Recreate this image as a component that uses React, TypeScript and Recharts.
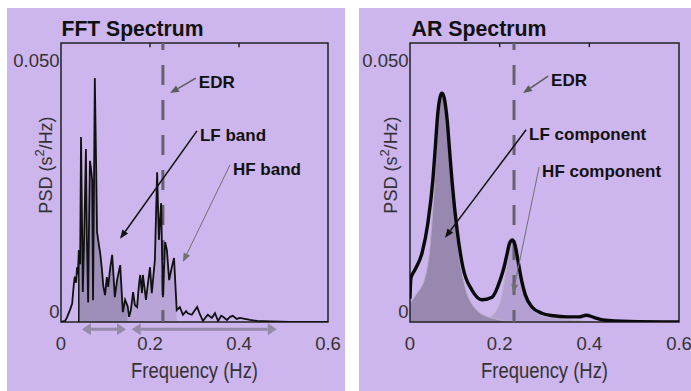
import {
  Area,
  ComposedChart,
  Line,
  ReferenceArea,
  ReferenceLine,
  XAxis,
  YAxis,
} from "recharts";

const FONT = "'Liberation Sans', Arial, Helvetica, sans-serif";
const PANEL_BG = "#cdb5ee";
const Y_MAX = 0.054;
const X_TICKS = [0, 0.2, 0.4, 0.6];
const Y_TICKS = [0, 0.05];
const TOP_TICKS = [0.2, 0.4];

// FFT periodogram
const fftFreq = [
  0, 0.009, 0.013, 0.02, 0.025, 0.029, 0.031, 0.034, 0.036, 0.038, 0.04,
  0.043, 0.045, 0.047, 0.049, 0.052, 0.056, 0.058, 0.061, 0.063, 0.065, 0.067,
  0.07, 0.072, 0.074, 0.076, 0.079, 0.081, 0.085, 0.088, 0.092, 0.095, 0.099,
  0.103, 0.106, 0.11, 0.115, 0.121, 0.126, 0.133, 0.139, 0.144, 0.15, 0.153,
  0.157, 0.162, 0.166, 0.171, 0.175, 0.178, 0.182, 0.184, 0.191, 0.195, 0.2,
  0.204, 0.211, 0.216, 0.22, 0.225, 0.229, 0.234, 0.238, 0.243, 0.249, 0.254,
  0.26, 0.267, 0.274, 0.281, 0.285, 0.294, 0.301, 0.306, 0.312, 0.319, 0.326,
  0.33, 0.339, 0.346, 0.353, 0.36, 0.364, 0.373, 0.38, 0.386, 0.395, 0.402,
  0.413, 0.425, 0.44, 0.47, 0.515, 0.6,
];
const fftPsd = [
  0, 0.0002, 0.0008, 0.0023, 0.0035, 0.0075, 0.0088, 0.0076, 0.0106, 0.0092,
  0.0139, 0.0112, 0.0358, 0.021, 0.0058, 0.016, 0.0335, 0.017, 0.0038, 0.019,
  0.0312, 0.03, 0.0275, 0.0042, 0.025, 0.0472, 0.03, 0.0174, 0.015, 0.0134,
  0.0101, 0.007, 0.0052, 0.0087, 0.0068, 0.0101, 0.013, 0.0048, 0.0081, 0.011,
  0.0019, 0.0043, 0.003, 0.001, 0.0023, 0.0058, 0.0033, 0.0029, 0.007, 0.0091,
  0.0056, 0.0091, 0.0043, 0.0072, 0.0106, 0.0056, 0.012, 0.029, 0.0159, 0.023,
  0.0048, 0.0155, 0.0139, 0.0081, 0.0106, 0.0124, 0.0023, 0.0029, 0.0014,
  0.0021, 0.0017, 0.0014, 0.0023, 0.0029, 0.0015, 0.0002, 0.001, 0.0014,
  0.0008, 0.0017, 0.0002, 0.0012, 0.001, 0.0004, 0.001, 0.0012, 0.0006,
  0.0008, 0.0006, 0.0004, 0.0002, 0.0001, 0, 0,
];
const LF_BAND = [0.04, 0.15];
const HF_BAND = [0.15, 0.26];
const EDR_FFT = 0.229;

// AR spectrum and its two components, right panel
const arFreq = [
  0, 0.002, 0.011, 0.027, 0.04, 0.051, 0.057, 0.062, 0.067, 0.071, 0.075,
  0.079, 0.083, 0.088, 0.094, 0.105, 0.118, 0.138, 0.161, 0.183, 0.201, 0.21,
  0.216, 0.222, 0.228, 0.234, 0.241, 0.249, 0.257, 0.272, 0.294, 0.32, 0.35,
  0.377, 0.393, 0.41, 0.43, 0.49, 0.6,
];
const arPsd = [
  0.0045, 0.0085, 0.0101, 0.0134, 0.0192, 0.0275, 0.0345, 0.0404, 0.0435,
  0.0443, 0.0438, 0.042, 0.039, 0.0335, 0.027, 0.0178, 0.0106, 0.0062, 0.0043,
  0.0048, 0.0081, 0.0107, 0.013, 0.0152, 0.0159, 0.015, 0.0118, 0.008, 0.0053,
  0.0029, 0.0017, 0.0012, 0.001, 0.001, 0.0013, 0.0009, 0.0004, 0.0001, 0,
];
const arLfFreq = [
  0, 0.015, 0.033, 0.045, 0.051, 0.057, 0.062, 0.067, 0.071, 0.075, 0.079,
  0.083, 0.088, 0.094, 0.1, 0.105, 0.11, 0.116, 0.127, 0.138, 0.15, 0.167,
  0.185, 0.2, 0.22,
];
const arLfPsd = [
  0.0037, 0.0055, 0.0085, 0.015, 0.022, 0.031, 0.0385, 0.0425, 0.044, 0.0435,
  0.0415, 0.0385, 0.033, 0.0262, 0.0205, 0.0165, 0.0125, 0.0095, 0.0055,
  0.0035, 0.0022, 0.0012, 0.0007, 0.0004, 0,
];
const arHfFreq = [
  0.14, 0.16, 0.175, 0.19, 0.2, 0.205, 0.21, 0.216, 0.222, 0.228, 0.234, 0.241,
  0.246, 0.252, 0.261, 0.272, 0.283, 0.3, 0.328, 0.37, 0.42,
];
const arHfPsd = [
  0, 0.0004, 0.0008, 0.0018, 0.0035, 0.0052, 0.0075, 0.0108, 0.014, 0.0152,
  0.014, 0.011, 0.0085, 0.0062, 0.004, 0.0025, 0.0017, 0.0011, 0.0007, 0.0003,
  0,
];
const EDR_AR = 0.232;

type Note = {
  text: string;
  from: [number, number];
  to: [number, number];
  color: string;
  width: number;
};

const fftNotes: Note[] = [
  { text: "EDR", from: [0.303, 0.0472], to: [0.245, 0.0443], color: "#5a5a5a", width: 1.5 },
  { text: "LF band", from: [0.3056, 0.037], to: [0.1326, 0.0161], color: "#111", width: 1.5 },
  { text: "HF band", from: [0.3797, 0.0304], to: [0.274, 0.0116], color: "#707070", width: 1 },
];
const arNotes: Note[] = [
  { text: "EDR", from: [0.308, 0.0476], to: [0.252, 0.0443], color: "#5a5a5a", width: 1.5 },
  { text: "LF component", from: [0.259, 0.0372], to: [0.078, 0.0163], color: "#111", width: 1.5 },
  { text: "HF component", from: [0.288, 0.03], to: [0.2297, 0.0056], color: "#707070", width: 1 },
];
const bandArrows = [
  [0.047, 0.146],
  [0.159, 0.485],
];
const BAND_ARROW_Y = -0.0014;

const fftRows = fftFreq.map((f, i) => ({
  f,
  psd: fftPsd[i],
  lf: f >= LF_BAND[0] && f <= LF_BAND[1] ? fftPsd[i] : null,
  hf: f >= HF_BAND[0] && f <= HF_BAND[1] ? fftPsd[i] : null,
}));
const arRows = arFreq.map((f, i) => ({ f, v: arPsd[i] }));
const arLfRows = arLfFreq.map((f, i) => ({ f, v: arLfPsd[i] }));
const arHfRows = arHfFreq.map((f, i) => ({ f, v: arHfPsd[i] }));

function headPoints(x1: number, y1: number, x2: number, y2: number, len: number, half: number) {
  const a = Math.atan2(y2 - y1, x2 - x1);
  const bx = x2 - len * Math.cos(a);
  const by = y2 - len * Math.sin(a);
  const px = -Math.sin(a) * half;
  const py = Math.cos(a) * half;
  return { bx, by, points: `${x2},${y2} ${bx + px},${by + py} ${bx - px},${by - py}` };
}

function noteShape(note: Note) {
  return (props: any) => {
    const { x1, y1, x2, y2 } = props;
    const head = headPoints(x1, y1, x2, y2, 9, 3.5);
    return (
      <g>
        <line x1={x1} y1={y1} x2={head.bx} y2={head.by} stroke={note.color} strokeWidth={note.width} />
        <polygon points={head.points} fill={note.color} />
        <text x={x1 + 3} y={y1 + 10} fontSize={17} fontWeight={700} fill="#111" fontFamily={FONT}>
          {note.text}
        </text>
      </g>
    );
  };
}

function doubleArrowShape(props: any) {
  const { x1, y1, x2, y2 } = props;
  const right = headPoints(x1, y1, x2, y2, 9, 6);
  const left = headPoints(x2, y2, x1, y1, 9, 6);
  return (
    <g>
      <line x1={left.bx} y1={left.by} x2={right.bx} y2={right.by} stroke="#958ba6" strokeWidth={3} />
      <polygon points={right.points} fill="#958ba6" />
      <polygon points={left.points} fill="#958ba6" />
    </g>
  );
}

function XTick({ x, y, payload }: any) {
  return (
    <text x={x} y={y + 28} textAnchor="middle" fontSize={18.5} fill="#333" fontFamily={FONT}>
      {payload.value === 0 ? "0" : String(payload.value)}
    </text>
  );
}

function YTick({ x, y, payload }: any) {
  const isZero = payload.value === 0;
  return (
    <text
      x={x - 1.5}
      y={isZero ? y - 4 : y + 3.5}
      textAnchor="end"
      fontSize={18.5}
      fill="#333"
      fontFamily={FONT}
    >
      {isZero ? "0" : payload.value.toFixed(3)}
    </text>
  );
}

function Frame() {
  return (
    <>
      <ReferenceArea x1={0} x2={0.6} y1={0} y2={Y_MAX} fill="none" stroke="#222" strokeWidth={1.5} />
      {TOP_TICKS.map((t) => (
        <ReferenceLine
          key={t}
          segment={[{ x: t, y: Y_MAX }, { x: t, y: Y_MAX - 0.0008 }]}
          stroke="#222"
          strokeWidth={1.5}
        />
      ))}
    </>
  );
}

function Labels({ title, titleLength, plotCenter, yLabelX }: {
  title: string;
  titleLength: number;
  plotCenter: number;
  yLabelX: number;
}) {
  return (
    <>
      <text
        x={plotCenter - 133}
        y={27.5}
        fontSize={22}
        fontWeight={700}
        fill="#111"
        fontFamily={FONT}
        textLength={titleLength}
        lengthAdjust="spacingAndGlyphs"
      >
        {title}
      </text>
      <text
        x={plotCenter}
        y={370}
        textAnchor="middle"
        fontSize={21.5}
        fill="#333"
        fontFamily={FONT}
        textLength={127}
        lengthAdjust="spacingAndGlyphs"
      >
        Frequency (Hz)
      </text>
      <text
        x={yLabelX}
        y={157}
        transform={`rotate(-90 ${yLabelX} 157)`}
        textAnchor="middle"
        dominantBaseline="central"
        fontSize={18}
        fill="#333"
        fontFamily={FONT}
      >
        PSD (s<tspan dy={-7} fontSize={13}>2</tspan>
        <tspan dy={7}>/Hz)</tspan>
      </text>
    </>
  );
}

function axes() {
  return [
    <XAxis
      key="x"
      dataKey="f"
      type="number"
      domain={[0, 0.6]}
      ticks={X_TICKS}
      interval={0}
      allowDataOverflow
      axisLine={false}
      tickLine={false}
      tickSize={0}
      tickMargin={0}
      height={30}
      tick={(p: any) => <XTick {...p} />}
    />,
    <YAxis
      key="y"
      type="number"
      domain={[0, Y_MAX]}
      ticks={Y_TICKS}
      interval={0}
      allowDataOverflow
      axisLine={false}
      tickLine={false}
      tickSize={0}
      tickMargin={0}
      width={40}
      tick={(p: any) => <YTick {...p} />}
    />,
  ];
}

function FftChart() {
  const edgeValue = fftPsd[fftFreq.indexOf(LF_BAND[0])];
  return (
    <ComposedChart
      width={338}
      height={383}
      data={fftRows}
      margin={{ top: 35, right: 17, bottom: 39, left: 14 }}
    >
      {axes()}
      <Area dataKey="lf" type="linear" stroke="none" fill="#9e8eba" fillOpacity={1} isAnimationActive={false} />
      <Area dataKey="hf" type="linear" stroke="none" fill="#b8a4d6" fillOpacity={1} isAnimationActive={false} />
      <ReferenceLine x={EDR_FFT} stroke="#67606f" strokeWidth={3} strokeDasharray="20 15" strokeDashoffset={8} />
      <Line dataKey="psd" type="linear" stroke="#111" strokeWidth={1.8} dot={false} activeDot={false} isAnimationActive={false} />
      <ReferenceLine segment={[{ x: LF_BAND[0], y: 0 }, { x: LF_BAND[0], y: edgeValue }]} stroke="#111" strokeWidth={1.5} />
      {Frame()}
      {fftNotes.map((n) => (
        <ReferenceLine
          key={n.text}
          segment={[{ x: n.from[0], y: n.from[1] }, { x: n.to[0], y: n.to[1] }]}
          ifOverflow="visible"
          shape={noteShape(n)}
        />
      ))}
      {bandArrows.map(([a, b]) => (
        <ReferenceLine
          key={a}
          segment={[{ x: a, y: BAND_ARROW_Y }, { x: b, y: BAND_ARROW_Y }]}
          ifOverflow="visible"
          shape={doubleArrowShape}
        />
      ))}
      {Labels({ title: "FFT Spectrum", titleLength: 142, plotCenter: 187.5, yLabelX: 38.5 })}
    </ComposedChart>
  );
}

function ArChart() {
  return (
    <ComposedChart width={332} height={383} margin={{ top: 35, right: 12, bottom: 39, left: 11 }}>
      {axes()}
      <Area data={arHfRows} dataKey="v" type="monotone" stroke="#b9b1c6" strokeWidth={1} fill="#b4a0d2" fillOpacity={1} isAnimationActive={false} />
      <Area data={arLfRows} dataKey="v" type="monotone" stroke="#b9b1c6" strokeWidth={1} fill="#9888b0" fillOpacity={1} isAnimationActive={false} />
      <ReferenceLine x={EDR_AR} stroke="#67606f" strokeWidth={3} strokeDasharray="20 15" strokeDashoffset={8} />
      <Line data={arRows} dataKey="v" type="monotone" stroke="#0a0a0a" strokeWidth={3.4} dot={false} activeDot={false} isAnimationActive={false} />
      {Frame()}
      {arNotes.map((n) => (
        <ReferenceLine
          key={n.text}
          segment={[{ x: n.from[0], y: n.from[1] }, { x: n.to[0], y: n.to[1] }]}
          ifOverflow="visible"
          shape={noteShape(n)}
        />
      ))}
      {Labels({ title: "AR Spectrum", titleLength: 135, plotCenter: 185.5, yLabelX: 32 })}
    </ComposedChart>
  );
}

export default function App() {
  return (
    <div
      style={{
        position: "absolute",
        left: 0,
        top: 0,
        width: 691,
        height: 391,
        background: "#fff",
        fontFamily: FONT,
      }}
    >
      <div style={{ position: "absolute", left: 7, top: 8, width: 338, height: 383, background: PANEL_BG }}>
        <FftChart />
      </div>
      <div style={{ position: "absolute", left: 359, top: 8, width: 332, height: 383, background: PANEL_BG }}>
        <ArChart />
      </div>
    </div>
  );
}
